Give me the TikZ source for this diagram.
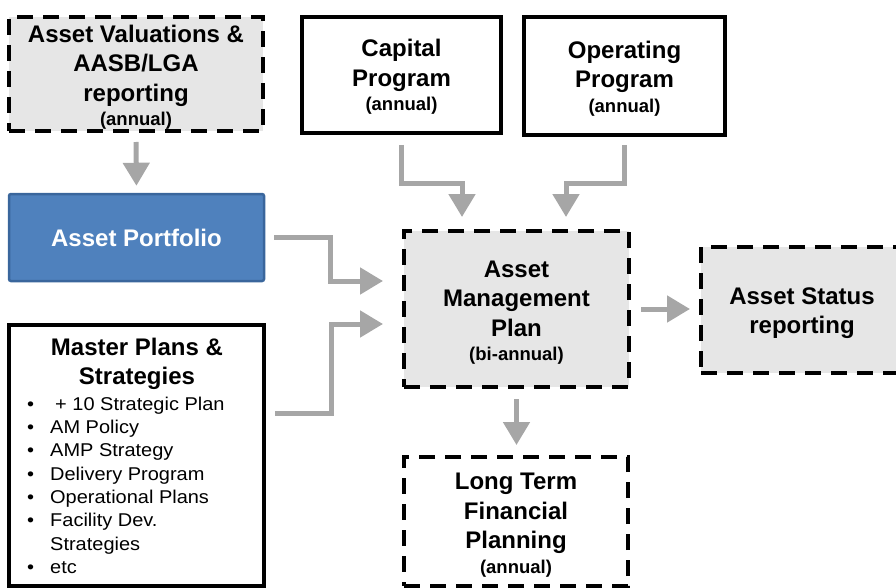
\documentclass[tikz,border=0pt]{standalone}
\usepackage{fontspec}
\setmainfont{Liberation Sans}
\newfontfamily\listfont[FakeStretch=1.08]{Liberation Sans}
\usetikzlibrary{arrows.meta}

\definecolor{boxgray}{HTML}{E6E6E6}
\definecolor{flowgray}{HTML}{A6A6A6}
\definecolor{portfill}{HTML}{4F81BD}
\definecolor{portline}{HTML}{3A669C}

% smaller second line (frequency) under a box title
\newcommand\freqline[1]{\\[-5pt]{\fontsize{18.5}{22}\selectfont #1}}

\tikzset{
  box/.style={draw=black, line width=4pt, inner sep=0pt, fill=white},
  dbox/.style={box, fill=boxgray, dash pattern=on 16pt off 10pt},
  wbox/.style={box, dash pattern=on 16pt off 10pt},
  portbox/.style={draw=portline, fill=portfill, line width=2.5pt, rounded corners=2pt,
    inner sep=0pt, text=white, font=\bfseries\fontsize{24}{29.5}\selectfont},
  boxtext/.style={inner sep=0pt, align=center,
    font=\bfseries\fontsize{24}{29.5}\selectfont},
  flow/.style={draw=flowgray, line width=5pt,
    -{Triangle[width=26pt,length=23pt]}},
  ttl/.style={font=\bfseries\fontsize{24}{29.5}\selectfont, inner sep=0pt},
  item/.style={font=\listfont\fontsize{18.5}{23}\selectfont, inner sep=0pt, anchor=base west},
}

\begin{document}
\begin{tikzpicture}[x=1pt, y=-1pt]
\clip (0,0) rectangle (896,588);

% top row
\node[dbox, minimum width=254pt, minimum height=114pt] (av) at (136,74) {};
\node[boxtext] (avt) at ([yshift=-3pt]av.center)
  {Asset Valuations \&\\AASB/LGA\\reporting\freqline{(annual)}};
\node[box, minimum width=199pt, minimum height=116pt] (cap) at (401.5,75) {};
\node[boxtext] (capt) at ([yshift=-2pt]cap.center)
  {Capital\\Program\freqline{(annual)}};
\node[box, minimum width=201pt, minimum height=118pt] (op) at (624.5,76) {};
\node[boxtext] (opt) at ([yshift=-2.5pt]op.center)
  {Operating\\Program\freqline{(annual)}};

% left column
\node[portbox, minimum width=255pt, minimum height=87pt] (port) at (136.5,237.5)
  {Asset Portfolio};
\node[box, minimum width=255pt, minimum height=261pt] (mp) at (136.5,455.5) {};

\node[ttl, anchor=base] (mt1) at (137,355) {Master Plans \&};
\node[ttl, anchor=base] (mt2) at (137,384) {Strategies};
\foreach \i/\y/\x/\b/\t in {1/410/55/{\textbullet}/{+ 10 Strategic Plan},
                        2/433.3/50/{\textbullet}/{AM Policy},
                        3/456.6/50/{\textbullet}/{AMP Strategy},
                        4/480/50/{\textbullet}/{Delivery Program},
                        5/503.3/50/{\textbullet}/{Operational Plans},
                        6/526.6/50/{\textbullet}/{Facility Dev.},
                        7/550/50/{}/{Strategies},
                        8/573.3/50/{\textbullet}/{etc}} {
  \node[item] (mb\i) at (27,\y) {\b};
  \node[item] (mi\i) at (\x,\y) {\t};
}

% centre and right
\node[dbox, minimum width=225pt, minimum height=156pt] (amp) at (516.5,309) {};
\node[boxtext] (ampt) at ([yshift=-3.5pt]amp.center)
  {Asset\\Management\\Plan\freqline{(bi-annual)}};
\node[dbox, minimum width=210pt, minimum height=126pt] (stat) at (806,310) {};
\node[boxtext] (statt) at ([yshift=-3pt]802,310)
  {Asset Status\\reporting};
\node[wbox, minimum width=224pt, minimum height=129pt] (ltfp) at (516,521.5) {};
\node[boxtext] (ltfpt) at ([yshift=-3.5pt]ltfp.center)
  {Long Term\\Financial\\Planning\freqline{(annual)}};

% connectors
\draw[flow, shorten <=9pt, shorten >=7pt] (av.south) -- (port.north);
\draw[flow, shorten <=10pt, shorten >=12pt]
  (cap.south) -- ++(0,49) -| ([xshift=-54.5pt]amp.north);
\draw[flow, shorten <=8pt, shorten >=12pt]
  (op.south) -- ++(0,47) -| ([xshift=49.5pt]amp.north);
\draw[flow, shorten <=9pt, shorten >=19pt]
  (port.east) -- ++(65,0) |- ([yshift=28pt]amp.west);
\draw[flow, shorten <=9pt, shorten >=19pt]
  ([yshift=42.5pt]mp.east) -- ++(65,0) |- ([yshift=-15pt]amp.west);
\draw[flow, shorten <=10pt, shorten >=9pt] (amp.east) -- (amp.east -| stat.west);
\draw[flow, shorten <=10pt, shorten >=10pt] (amp.south) -- (amp.south |- ltfp.north);
\end{tikzpicture}
\end{document}
